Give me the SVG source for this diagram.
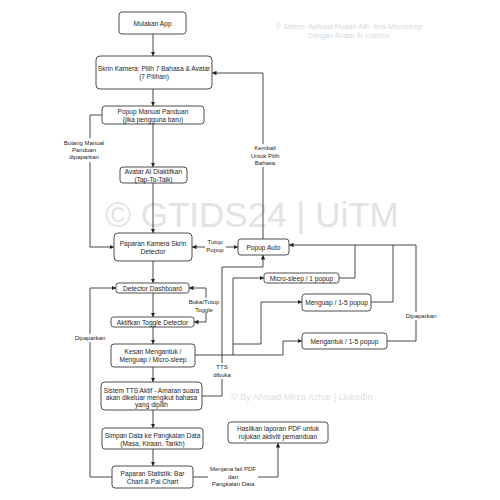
<svg xmlns="http://www.w3.org/2000/svg" width="500" height="500" viewBox="0 0 500 500">
<style>
.bg{fill:#ffffff}
.n rect{fill:#ffffff;stroke:#3a3a3a;stroke-width:0.9}
.t{font-family:"Liberation Sans",Arial,sans-serif;font-size:6.6px;text-anchor:middle;dominant-baseline:central;fill:#1e1e1e}
.e{font-family:"Liberation Sans",Arial,sans-serif;font-size:6px;text-anchor:middle;dominant-baseline:central;fill:#1e1e1e}
.lb{fill:#ffffff}
.c path{fill:none;stroke:#333333;stroke-width:0.9;marker-end:url(#ah)}
.c path.bi{marker-start:url(#ah)}
.c path.nm{marker-end:none}
.wm{font-family:"Liberation Sans",Arial,sans-serif;text-anchor:middle;dominant-baseline:central;white-space:pre}
</style>
<defs>
<marker id="ah" viewBox="0 0 8 8" refX="8" refY="4" markerWidth="4.5" markerHeight="4.5" markerUnits="userSpaceOnUse" orient="auto-start-reverse">
<path d="M0,0 L8,4 L0,8 z" fill="#222222"/>
</marker>
</defs>
<rect class="bg" x="0" y="0" width="500" height="500"/>

<g id="watermarks">
<text class="wm" x="252" y="214" font-size="35" fill="#e3e3e3">© GTIDS24 | UiTM</text>
<text class="wm" x="349" y="27" font-size="7.1" fill="#d9d9d9">© Sistem  Aplikasi Mudah Alih  Anti-Microsleep</text>
<text class="wm" x="349" y="36" font-size="7.1" fill="#d9d9d9">Dengan Avatar AI chatbox</text>
<text class="wm" x="302" y="397" font-size="9" fill="#dedede">© By Ahmad Mirza Azhar | LinkedIn</text>
</g>

<g class="c" id="connectors">
<path d="M153,34 V56"/>
<path d="M153,89 V106"/>
<path d="M153,124 V167"/>
<path d="M153,183 V233"/>
<path d="M153,261 V283"/>
<path d="M153,293 V317"/>
<path d="M153,327 V344"/>
<path d="M153,367 V382"/>
<path d="M153,410 V428"/>
<path d="M153,449 V466"/>
<path d="M102,115 H90 V247 H114"/>
<path class="bi" d="M192,247 H238"/>
<path d="M263,239 V73 H212"/>
<path class="bi" d="M189,288 H206 V322 H194"/>
<path d="M112,477 H90 V288 H116"/>
<path d="M193,477 H278 V443"/>
<path d="M202,396 H222 V267 H263 V255"/>
<path d="M195,355 H283 V341 H302"/>
<path d="M233,355 V278 H264"/>
<path d="M233,344 H261 V302 H302"/>
<path class="nm" d="M339,278 H355 V245"/>
<path class="nm" d="M371,302 H393 V245"/>
<path d="M387,341 H416 V245 H289"/>
</g>

<g id="edge-labels">
<rect class="lb" x="62" y="138" width="44" height="24"/>
<text class="e" x="84" y="143">Butang Manual</text>
<text class="e" x="84" y="150">Panduan</text>
<text class="e" x="84" y="157">dipaparkan</text>
<rect class="lb" x="250" y="144" width="30" height="23"/>
<text class="e" x="265" y="148">Kembali</text>
<text class="e" x="265" y="155.5">Untuk Pilih</text>
<text class="e" x="265" y="163">Bahasa</text>
<rect class="lb" x="205" y="238" width="21" height="16"/>
<text class="e" x="215" y="242">Tutup</text>
<text class="e" x="215" y="249.5">Popup</text>
<rect class="lb" x="191" y="298" width="27" height="15"/>
<text class="e" x="204" y="302">Buka/Tutup</text>
<text class="e" x="204" y="309.5">Toggle</text>
<rect class="lb" x="212" y="363" width="20" height="16"/>
<text class="e" x="222" y="367">TTS</text>
<text class="e" x="222" y="375">dibuka</text>
<rect class="lb" x="75" y="334" width="31" height="8"/>
<text class="e" x="90" y="338">Dipaparkan</text>
<rect class="lb" x="406" y="312" width="31" height="8"/>
<text class="e" x="421" y="316">Dipaparkan</text>
<rect class="lb" x="208" y="465" width="50" height="23"/>
<text class="e" x="233" y="469">Menjana fail PDF</text>
<text class="e" x="233" y="476.5">dari</text>
<text class="e" x="233" y="484">Pangkalan Data</text>
</g>

<g class="n" id="mulakan"><rect x="119" y="12" width="67" height="22" rx="3"/><text class="t" x="152.5" y="23">Mulakan App</text></g>
<g class="n" id="skrin-kamera"><rect x="96" y="56" width="116" height="33" rx="4"/><text class="t" x="154" y="68">Skrin Kamera: Pilih 7 Bahasa &amp; Avatar</text><text class="t" x="154" y="76.5">(7 Pilihan)</text></g>
<g class="n" id="popup-manual"><rect x="102" y="106" width="102" height="18" rx="3"/><text class="t" x="153" y="111">Popup Manual Panduan</text><text class="t" x="153" y="119.5">(jika pengguna baru)</text></g>
<g class="n" id="avatar-ai"><rect x="120" y="167" width="67" height="16" rx="3"/><text class="t" x="153.5" y="171">Avatar AI Diaktifkan</text><text class="t" x="153.5" y="179">(Tap-To-Talk)</text></g>
<g class="n" id="paparan-kamera"><rect x="114" y="233" width="78" height="28" rx="4"/><text class="t" x="153" y="243">Paparan Kamera Skrin</text><text class="t" x="153" y="251.5">Detector</text></g>
<g class="n" id="popup-auto"><rect x="238" y="239" width="51" height="16" rx="3"/><text class="t" x="263.5" y="247">Popup Auto</text></g>
<g class="n" id="detector-dashboard"><rect x="116" y="283" width="73" height="10" rx="2.5"/><text class="t" x="152.5" y="288">Detector Dashboard</text></g>
<g class="n" id="aktifkan-toggle"><rect x="111" y="317" width="83" height="10" rx="2.5"/><text class="t" x="152.5" y="322">Aktifkan Toggle Detector</text></g>
<g class="n" id="kesan"><rect x="111" y="344" width="84" height="23" rx="3"/><text class="t" x="153" y="351">Kesan Mengantuk /</text><text class="t" x="153" y="359.5">Menguap / Micro-sleep</text></g>
<g class="n" id="micro-sleep"><rect x="264" y="273" width="75" height="10" rx="2.5"/><text class="t" x="301.5" y="278">Micro-sleep / 1 popup</text></g>
<g class="n" id="menguap"><rect x="302" y="294" width="69" height="17" rx="3"/><text class="t" x="336.5" y="302.5">Menguap / 1-5 popup</text></g>
<g class="n" id="mengantuk"><rect x="302" y="333" width="85" height="16" rx="3"/><text class="t" x="344.5" y="341">Mengantuk / 1-5 popup</text></g>
<g class="n" id="sistem-tts"><rect x="101" y="382" width="101" height="28" rx="4"/><text class="t" x="151.5" y="390">Sistem TTS Aktif - Amaran suara</text><text class="t" x="151.5" y="397">akan dikeluar mengikut bahasa</text><text class="t" x="151.5" y="404">yang dipilih</text></g>
<g class="n" id="simpan-data"><rect x="102" y="428" width="101" height="21" rx="3"/><text class="t" x="152.5" y="435.5">Simpan Data ke Pangkalan Data</text><text class="t" x="152.5" y="443">(Masa, Kiraan, Tarikh)</text></g>
<g class="n" id="paparan-statistik"><rect x="112" y="466" width="81" height="22" rx="3"/><text class="t" x="152.5" y="473">Paparan Statistik: Bar</text><text class="t" x="152.5" y="481">Chart &amp; Pai Chart</text></g>
<g class="n" id="hasilkan-pdf"><rect x="228" y="422" width="100" height="21" rx="3"/><text class="t" x="278" y="428.5">Hasilkan laporan PDF untuk</text><text class="t" x="278" y="436.5">rujukan aktiviti pemanduan</text></g>
</svg>
